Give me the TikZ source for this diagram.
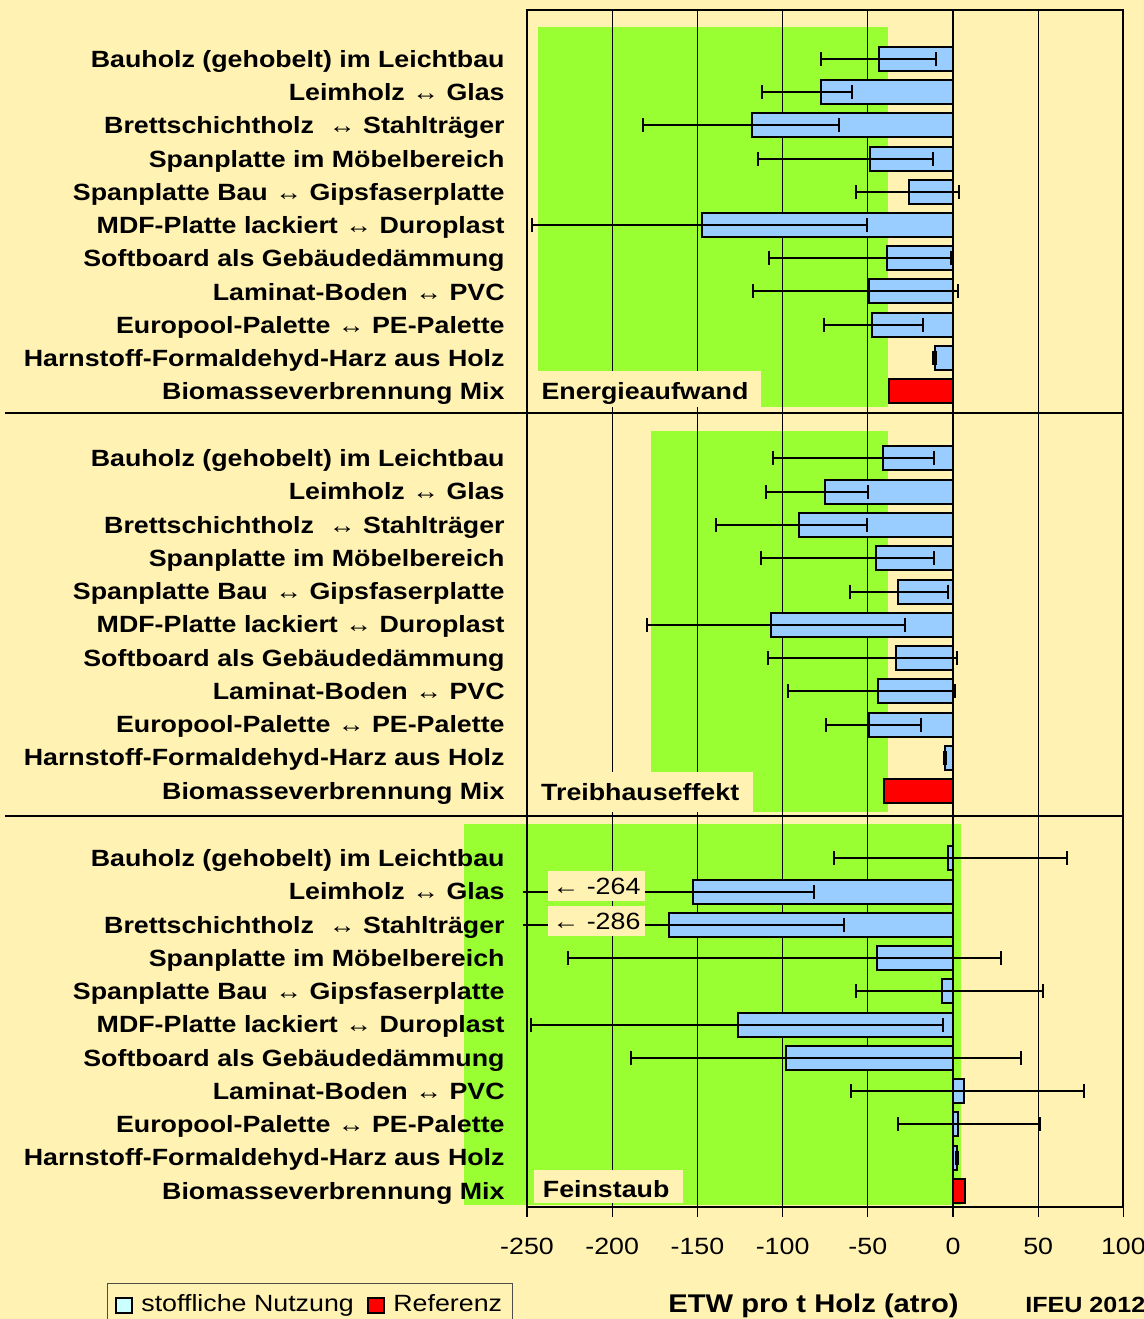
\documentclass[tikz,border=0pt]{standalone}
\usepackage{fontspec}
\setmainfont{Liberation Sans}[FakeStretch=1.14]

\definecolor{cream}{RGB}{255,242,179}
\definecolor{lime}{RGB}{153,255,51}
\definecolor{barblue}{RGB}{153,204,255}
\definecolor{legcyan}{RGB}{204,255,255}

\newcommand{\chartfont}{\fontsize{11.75}{14}\selectfont}
\newcommand{\lr}{{\mdseries ↔}}

\tikzstyle{rowlabel} = [anchor=base east, inner sep=0pt, font=\chartfont\bfseries]
\tikzstyle{tagtext} = [anchor=base west, inner sep=0pt, font=\chartfont\bfseries]
\tikzstyle{ticklabel} = [anchor=base, inner sep=0pt, font=\chartfont]
\tikzstyle{usebar} = [draw=black, line width=1pt, fill=barblue]
\tikzstyle{refbar} = [draw=black, line width=1pt, fill=red]
\tikzstyle{whisker} = [line width=1pt]
\tikzstyle{gridline} = [line width=0.65pt]

% bar with error whisker: y, value, low, high
\newcommand{\usebarrow}[4]{%
  \draw[usebar] (0,#1-12) rectangle (#2,#1+12);
  \draw[whisker] (#3,#1) -- (#4,#1);
  \draw[whisker] (#3,#1-7) -- (#3,#1+7);
  \draw[whisker] (#4,#1-7) -- (#4,#1+7);}

\begin{document}
\begin{tikzpicture}[x=0.5pt, y=-0.5pt]
  \useasboundingbox[fill=cream] (0,0) rectangle (1144,1319);

  \begin{scope}[shift={(953,0)}, x=0.852pt]
    % green ranges
    \fill[lime] (-243.5,27) rectangle (-38,407);
    \fill[lime] (-177,431) rectangle (-38,812);
    \fill[lime] (-287,824) rectangle (4.7,1205);

    \foreach \g in {-250,-200,...,100}
      \draw[gridline] (\g,10) -- (\g,1217);

    % panel tags
    \fill[cream] (-243.5,371) rectangle (-112.7,407);
    \fill[cream] (-250,772) rectangle (-117.4,812);
    \fill[cream] (-245.8,1170) rectangle (-158.5,1203);
    \node[tagtext] (energie) at (-241.7,399) {Energieaufwand};
    \node[tagtext] (treibhaus) at (-241.9,800) {Treibhauseffekt};
    \node[tagtext] (feinstaub) at (-240.9,1197.7) {Feinstaub};

    % Energieaufwand
    \draw[whisker] (0,21) -- (0,33);
    \foreach \i/\v/\lo/\hi in {1/-43.2/-77.5/-10, 2/-77.5/-112/-59.3, 3/-117.9/-182/-67,
        4/-48.5/-114.6/-11.6, 5/-26/-57.2/3.7, 6/-147.4/-246.9/-50.6, 7/-38.8/-107.8/-0.9,
        8/-49.3/-117.1/2.8, 9/-47.6/-75.6/-17.7, 10/-10.8/-11.7/-10} {
      \pgfmathsetmacro\ry{59+33.2*(\i-1)}
      \usebarrow{\ry}{\v}{\lo}{\hi}
    }
    \draw[refbar] (0,379) rectangle (-37.4,403);

    % Treibhauseffekt
    \foreach \i/\v/\lo/\hi in {1/-41.1/-105.9/-11.2, 2/-75/-110/-50, 3/-90.2/-139.1/-50.2,
        4/-45/-112.5/-11.4, 5/-32.5/-60.3/-3, 6/-106.6/-179.7/-28.3, 7/-33.5/-108.3/2.1,
        8/-43.9/-96.7/1.4, 9/-49.3/-74.8/-19, 10/-4.7/-5.3/-4.4} {
      \pgfmathsetmacro\ry{458.3+33.3*(\i-1)}
      \usebarrow{\ry}{\v}{\lo}{\hi}
    }
    \draw[refbar] (0,779.3) rectangle (-40.7,803.3);

    % Feinstaub
    \foreach \i/\v/\lo/\hi in {1/-3/-70/67, 4/-44.7/-226/28, 5/-6.7/-56.9/52.8,
        6/-126.1/-247.9/-5.8, 7/-98/-188.8/40, 8/6.5/-60/77, 9/3/-32/51, 10/2.5/2/2.8} {
      \pgfmathsetmacro\ry{858.3+33.27*(\i-1)}
      \usebarrow{\ry}{\v}{\lo}{\hi}
    }
    \draw[usebar] (0,879.6) rectangle (-152.5,903.6);
    \draw[whisker] (-252.6,891.6) -- (-81.6,891.6);
    \draw[whisker] (-81.6,884.6) -- (-81.6,898.6);
    \draw[usebar] (0,912.9) rectangle (-166.7,936.9);
    \draw[whisker] (-252.6,924.9) -- (-64,924.9);
    \draw[whisker] (-64,917.9) -- (-64,931.9);
    \draw[refbar] (0,1179) rectangle (7.3,1203);

    \fill[cream] (-237.7,871) rectangle (-180.8,901);
    \fill[cream] (-237.7,906) rectangle (-180.8,936);
    \node[ticklabel] (cut264) at (-209.2,894) {← -264};
    \node[ticklabel] (cut286) at (-209.2,929) {← -286};

    % frame and axis
    \draw[line width=1pt] (-250,10) rectangle (100,1207);
    \foreach \g in {-250,-200,...,100}
      \node[ticklabel] (tick\g) at (\g,1254) {\g};
  \end{scope}

  \draw[line width=1pt] (5,413) -- (1124,413);
  \draw[line width=1pt] (5,816) -- (1124,816);

  \foreach \p/\base in {1/59, 2/458.3, 3/858.3}
    \foreach \t [count=\i] in {Bauholz (gehobelt) im Leichtbau, Leimholz \lr{} Glas,
        Brettschichtholz\ \ \lr{} Stahlträger, Spanplatte im Möbelbereich,
        Spanplatte Bau \lr{} Gipsfaserplatte, MDF-Platte lackiert \lr{} Duroplast,
        Softboard als Gebäudedämmung, Laminat-Boden \lr{} PVC,
        Europool-Palette \lr{} PE-Palette, Harnstoff-Formaldehyd-Harz aus Holz,
        Biomasseverbrennung Mix} {
      \pgfmathsetmacro\ry{\base+33.25*(\i-1)+8.3}
      \node[rowlabel] (lab\p-\i) at (505,\ry) {\t};
    }

  % legend
  \draw[line width=0.6pt, black!70] (107.3,1283.3) rectangle (512.3,1330);
  \draw[line width=1pt, fill=legcyan] (116,1298) rectangle (132,1313);
  \node[anchor=base west, inner sep=0pt, font=\chartfont] (leguse) at (141,1311.7) {stoffliche Nutzung};
  \draw[line width=1pt, fill=red] (368,1298) rectangle (384,1313);
  \node[anchor=base west, inner sep=0pt, font=\chartfont] (legref) at (393,1311.7) {Referenz};

  \node[anchor=base west, inner sep=0pt, font=\fontsize{12.8}{15}\selectfont\bfseries] (axistitle) at (668,1312.3) {ETW pro t Holz (atro)};
  \node[anchor=base west, inner sep=0pt, font=\fontsize{11}{13}\selectfont\bfseries] (source) at (1025,1312.3) {IFEU 2012};
\end{tikzpicture}
\end{document}
